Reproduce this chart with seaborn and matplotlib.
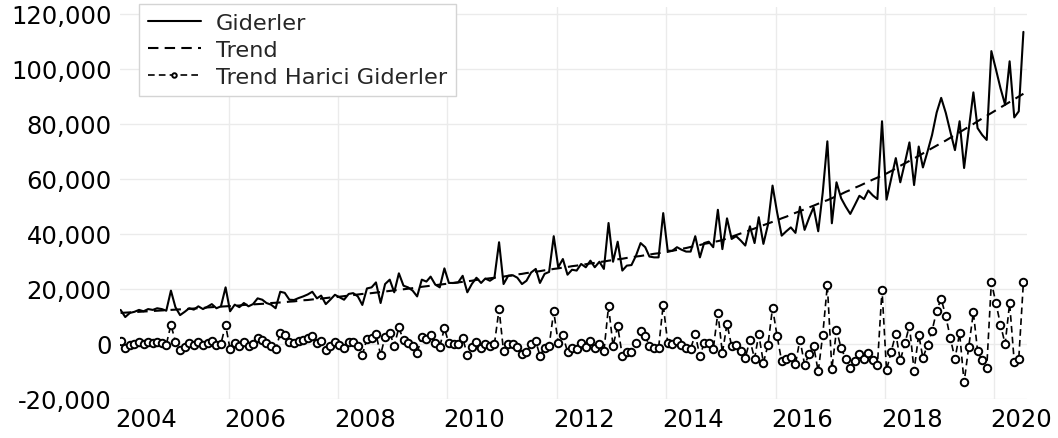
import numpy as np
import pandas as pd
import matplotlib
matplotlib.use("Agg")
import matplotlib.pyplot as plt
import matplotlib.dates as mdates
from matplotlib.ticker import FuncFormatter, FixedLocator
import seaborn as sns

# ---------------- data (monthly, Jul 2003 - Jan 2020) ----------------
first_month = "2003-07-01"

giderler = [
    12400, 9800, 11300, 11700, 12400, 11900, 12700, 12400, 13000, 12700, 12100, 19400,
    13400, 10500, 11700, 13000, 12500, 13700, 12700, 13600, 14500, 13000, 13700, 20600,
    11900, 14300, 13400, 14900, 13700, 14500, 16600, 16100, 14900, 14300, 13000, 19000,
    18600, 16100, 16000, 16700, 17300, 18000, 19000, 16600, 17600, 14500, 16100, 17900,
    17000, 16100, 18200, 18500, 17300, 14200, 20200, 20600, 22400, 14900, 21800, 23400,
    18800, 25700, 21200, 20600, 19400, 17300, 23400, 22700, 24500, 21600, 20600, 27500,
    22200, 22200, 22400, 24800, 18800, 21800, 24100, 22200, 23800, 23000, 24100, 37000,
    21800, 24800, 25000, 24100, 21800, 23000, 26000, 27300, 22200, 25500, 26200, 39200,
    27900, 30900, 25200, 27000, 26700, 29100, 27900, 30300, 27900, 29900, 27300, 44000,
    29900, 37200, 26700, 28500, 28700, 32100, 36700, 35200, 31800, 31500, 31500, 47600,
    33900, 33900, 35200, 34300, 33600, 33600, 39200, 31500, 36700, 37200, 35200, 48800,
    34500, 45700, 38200, 39200, 37600, 35800, 42800, 36700, 46100, 36400, 43300, 57600,
    48000, 39400, 41000, 42400, 40400, 49900, 41500, 46000, 49700, 41000, 55000, 73700,
    43900, 58800, 53000, 50000, 47300, 50500, 53900, 52700, 55800, 54000, 52700, 81000,
    52500, 60000, 67600, 58800, 66000, 73300, 57800, 71800, 64200, 70000, 76000, 84200,
    89500, 84000, 77000, 70500, 81000, 64000, 78000, 91500, 78500, 76000, 74200, 106500,
    100000, 93000, 87000, 102800, 82400, 84600, 113500,
]

trend = [
    11300, 11400, 11500, 11600, 11700, 11800, 11900, 12000, 12100, 12200, 12300, 12400,
    12500, 12600, 12700, 12800, 12900, 13000, 13100, 13300, 13400, 13500, 13600, 13700,
    13800, 13900, 14000, 14200, 14300, 14400, 14500, 14600, 14700, 14900, 15000, 15100,
    15200, 15400, 15500, 15700, 15900, 16000, 16200, 16400, 16500, 16700, 16900, 17000,
    17200, 17400, 17600, 17800, 18000, 18200, 18300, 18500, 18700, 18900, 19100, 19300,
    19500, 19700, 19900, 20100, 20300, 20500, 20800, 21000, 21200, 21400, 21600, 21800,
    22000, 22200, 22400, 22600, 22800, 23000, 23300, 23500, 23700, 23900, 24100, 24300,
    24500, 24800, 25000, 25300, 25500, 25800, 26000, 26300, 26500, 26800, 27000, 27300,
    27500, 27800, 28000, 28300, 28500, 28800, 29000, 29300, 29500, 29800, 30000, 30300,
    30500, 30800, 31000, 31300, 31500, 31800, 32000, 32300, 32500, 32800, 33000, 33300,
    33500, 33900, 34200, 34600, 34900, 35300, 35700, 36000, 36400, 36700, 37100, 37400,
    37800, 38400, 39000, 39600, 40200, 40800, 41400, 42000, 42600, 43200, 43800, 44400,
    45000, 45700, 46300, 47000, 47700, 48300, 49000, 49700, 50300, 51000, 51700, 52300,
    53000, 53800, 54500, 55300, 56000, 56800, 57500, 58300, 59000, 59800, 60500, 61300,
    62000, 62900, 63800, 64800, 65700, 66600, 67500, 68400, 69300, 70300, 71200, 72100,
    73000, 74000, 75000, 76000, 77000, 78000, 79000, 80000, 81000, 82000, 83000, 84000,
    85000, 86000, 87000, 88000, 89000, 90000, 91000,
]

year_labels = ["2004", "2006", "2008", "2010", "2012", "2014", "2016", "2018", "2020"]
grid_years = ["2005", "2007", "2009", "2011", "2013", "2015", "2017", "2019"]
y_ticks = [-20000, 0, 20000, 40000, 60000, 80000, 100000, 120000]
series_labels = ["Giderler", "Trend", "Trend Harici Giderler"]

# ---------------- frame ----------------
dates = pd.date_range(start=first_month, periods=len(giderler), freq="MS") + pd.Timedelta(days=14)
df = pd.DataFrame({"Tarih": dates, "Giderler": giderler, "Trend": trend})
df["Trend Harici Giderler"] = df["Giderler"] - df["Trend"]

sns.set_theme(style="white")
plt.rcParams["font.family"] = ["DejaVu Sans"]

W, H = 1058, 439
fig = plt.figure(figsize=(W / 100, H / 100), dpi=100)
ax = fig.add_axes([120 / W, 1 - 400 / H, 907 / W, 392 / H])

sns.lineplot(data=df, x="Tarih", y="Giderler", ax=ax, color="black",
             lw=1.5, label=series_labels[0], zorder=3)
sns.lineplot(data=df, x="Tarih", y="Trend", ax=ax, color="black",
             lw=1.5, linestyle=(0, (5, 3)), label=series_labels[1], zorder=3)
sns.lineplot(data=df, x="Tarih", y="Trend Harici Giderler", ax=ax, color="black",
             lw=1.2, linestyle=(0, (4, 2.5)), marker="o", markersize=5.4,
             markerfacecolor="white", markeredgecolor="black", markeredgewidth=1.4,
             label=series_labels[2], zorder=4)

# axes limits
ax.set_xlim(pd.Timestamp("2003-07-11"), pd.Timestamp("2020-02-08"))
ax.set_ylim(-20000, 122545)

# ticks
ax.set_xticks([mdates.date2num(pd.Timestamp(f"{y}-01-01")) for y in year_labels])
ax.set_xticklabels(year_labels)
ax.xaxis.set_minor_locator(FixedLocator(
    [mdates.date2num(pd.Timestamp(f"{y}-07-05")) for y in grid_years]))
ax.set_yticks(y_ticks)
ax.yaxis.set_major_formatter(FuncFormatter(lambda v, p: f"{v:,.0f}"))
ax.set_xlabel("")
ax.set_ylabel("")

ax.tick_params(axis="both", which="both", length=0, labelsize=17.5, colors="black")
ax.tick_params(axis="x", pad=6)
ax.tick_params(axis="y", pad=6)

# grid
ax.grid(False)
ax.yaxis.grid(True, color="#ebebeb", lw=1.0)
ax.xaxis.grid(True, which="minor", color="#ebebeb", lw=1.0)
ax.xaxis.grid(False, which="major")
ax.set_axisbelow(True)

for s in ax.spines.values():
    s.set_visible(False)

leg = ax.legend(loc="upper left", bbox_to_anchor=(19 / 907, 1 + 3 / 392),
                borderaxespad=0, frameon=True, fancybox=False,
                edgecolor="#d4d4d4", framealpha=1, fontsize=16.2,
                handlelength=2.35, handletextpad=0.65, labelspacing=0.3,
                borderpad=0.4, markerscale=0.6)
leg.get_frame().set_linewidth(1.0)

fig.savefig("out.png", dpi=100)
